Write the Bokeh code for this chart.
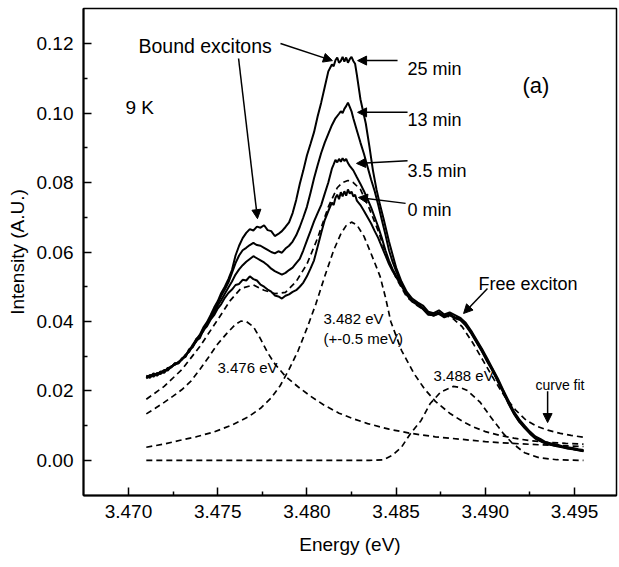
from bokeh.plotting import figure
from bokeh.models import Range1d, FixedTicker, PrintfTickFormatter, Label, Arrow, NormalHead
from bokeh.embed import file_html
from bokeh.resources import INLINE

# ---------------- data ----------------
x_ticks = [3.470, 3.475, 3.480, 3.485, 3.490, 3.495]
x_minor = [3.4725, 3.4775, 3.4825, 3.4875, 3.4925]
y_ticks = [0.00, 0.02, 0.04, 0.06, 0.08, 0.10, 0.12]
y_minor = [0.01, 0.03, 0.05, 0.07, 0.09, 0.11]

left_e = [3.4710, 3.4712, 3.4714, 3.4716, 3.4718, 3.4720, 3.4722, 3.4724, 3.4726, 3.4728,
          3.4730, 3.4732, 3.4734, 3.4736, 3.4738, 3.4740, 3.4742, 3.4744, 3.4746]
right_e = [3.4856, 3.4859, 3.4862, 3.4865, 3.4868, 3.4871, 3.4874, 3.4877, 3.4880, 3.4883,
           3.4886, 3.4889, 3.4892, 3.4895, 3.4898, 3.4901, 3.4904, 3.4907, 3.4910, 3.4913,
           3.4916, 3.4919, 3.4922, 3.4925, 3.4928, 3.4931, 3.4934, 3.4937, 3.4940, 3.4943,
           3.4946, 3.4949, 3.4952, 3.4955]

# 25 min spectrum
s25_left = [.0238, .0246, .0241, .0252, .0249, .0258, .0262, .0271, .0275, .0284,
            .0290, .0302, .0315, .0333, .0348, .0362, .0383, .0398, .0418]
s25_mid = [(3.4748, .0440), (3.4750, .0458), (3.4752, .0482), (3.4754, .0500), (3.4756, .0522),
           (3.4758, .0548), (3.4760, .0590), (3.4762, .0618), (3.4764, .0640), (3.4766, .0655),
           (3.4768, .0666), (3.4770, .0662), (3.4772, .0673), (3.4774, .0670), (3.4776, .0677),
           (3.4778, .0663), (3.4780, .0660), (3.4782, .0646), (3.4784, .0652), (3.4786, .0660),
           (3.4788, .0672), (3.4790, .0685), (3.4792, .0712), (3.4794, .0750), (3.4796, .0796),
           (3.4798, .0835), (3.4800, .0878), (3.4802, .0911), (3.4804, .0945), (3.4806, .0990),
           (3.4808, .1030), (3.4810, .1075), (3.4812, .1120), (3.4814, .1140), (3.4815, .1135),
           (3.4816, .1152), (3.4817, .1160), (3.4818, .1145), (3.4819, .1150), (3.4820, .1162),
           (3.4821, .1148), (3.4822, .1160), (3.4823, .1145), (3.4824, .1155), (3.4825, .1162),
           (3.4826, .1150), (3.4827, .1142), (3.4828, .1110), (3.4830, .1040), (3.4833, .0970),
           (3.4835, .0905), (3.4837, .0835), (3.4839, .0780), (3.4841, .0735), (3.4843, .0695),
           (3.4846, .0630), (3.4850, .0555), (3.4853, .0515)]
s25_right = [.0485, .0466, .0455, .0446, .0428, .0424, .0432, .0420, .0426, .0418,
             .0410, .0396, .0374, .0348, .0322, .0294, .0265, .0236, .0203, .0172,
             .0141, .0118, .0100, .0083, .0069, .0061, .0052, .0049, .0046, .0041,
             .0038, .0036, .0032, .0030]

# 13 min spectrum
s13_left = [.0244, .0240, .0250, .0247, .0256, .0254, .0266, .0268, .0279, .0281,
            .0294, .0300, .0320, .0328, .0350, .0357, .0380, .0392, .0412]
s13_mid = [(3.4748, .0432), (3.4750, .0452), (3.4752, .0474), (3.4754, .0492), (3.4756, .0512),
           (3.4758, .0540), (3.4760, .0568), (3.4762, .0590), (3.4764, .0605), (3.4766, .0612),
           (3.4768, .0620), (3.4770, .0626), (3.4772, .0620), (3.4774, .0618), (3.4776, .0612),
           (3.4778, .0606), (3.4780, .0600), (3.4782, .0596), (3.4784, .0602), (3.4786, .0598),
           (3.4788, .0610), (3.4790, .0618), (3.4792, .0630), (3.4794, .0648), (3.4796, .0672),
           (3.4798, .0700), (3.4800, .0730), (3.4802, .0770), (3.4804, .0812), (3.4806, .0850),
           (3.4808, .0885), (3.4810, .0915), (3.4812, .0940), (3.4814, .0965), (3.4816, .0985),
           (3.4818, .0998), (3.4819, .1005), (3.4820, .1000), (3.4821, .1012), (3.4822, .1020),
           (3.4823, .1030), (3.4824, .1018), (3.4825, .1005), (3.4826, .0985), (3.4828, .0950),
           (3.4830, .0915), (3.4832, .0882), (3.4834, .0845), (3.4836, .0808), (3.4838, .0775),
           (3.4840, .0735), (3.4842, .0692), (3.4844, .0650), (3.4846, .0605), (3.4848, .0572),
           (3.4850, .0545), (3.4853, .0510)]
s13_right = [.0478, .0460, .0450, .0437, .0426, .0416, .0424, .0416, .0419, .0412,
             .0405, .0392, .0368, .0342, .0316, .0288, .0260, .0229, .0198, .0166,
             .0136, .0113, .0095, .0078, .0064, .0056, .0049, .0045, .0042, .0039,
             .0035, .0033, .0030, .0027]

# 3.5 min spectrum
s35_left = [.0236, .0244, .0247, .0244, .0253, .0260, .0259, .0270, .0277, .0280,
            .0291, .0305, .0312, .0330, .0342, .0360, .0372, .0395, .0408]
s35_mid = [(3.4748, .0425), (3.4750, .0445), (3.4752, .0462), (3.4754, .0480), (3.4756, .0498),
           (3.4758, .0515), (3.4760, .0535), (3.4762, .0550), (3.4764, .0562), (3.4766, .0572),
           (3.4768, .0580), (3.4770, .0588), (3.4772, .0582), (3.4774, .0576), (3.4776, .0570),
           (3.4778, .0562), (3.4780, .0552), (3.4782, .0545), (3.4784, .0540), (3.4786, .0535),
           (3.4788, .0540), (3.4790, .0548), (3.4792, .0555), (3.4794, .0568), (3.4796, .0580),
           (3.4798, .0605), (3.4800, .0633), (3.4802, .0660), (3.4804, .0688), (3.4806, .0712),
           (3.4808, .0735), (3.4810, .0768), (3.4812, .0800), (3.4814, .0840), (3.4815, .0852),
           (3.4816, .0865), (3.4817, .0858), (3.4818, .0868), (3.4819, .0860), (3.4820, .0870),
           (3.4821, .0862), (3.4822, .0868), (3.4823, .0856), (3.4824, .0848), (3.4826, .0835),
           (3.4828, .0815), (3.4830, .0796), (3.4832, .0775), (3.4834, .0752), (3.4836, .0728),
           (3.4838, .0700), (3.4840, .0672), (3.4842, .0640), (3.4844, .0605), (3.4846, .0575),
           (3.4848, .0550), (3.4850, .0532), (3.4853, .0508)]
s35_right = [.0481, .0459, .0453, .0438, .0421, .0422, .0425, .0414, .0423, .0410,
             .0410, .0390, .0371, .0343, .0320, .0287, .0263, .0230, .0201, .0165,
             .0139, .0112, .0098, .0079, .0067, .0057, .0051, .0046, .0044, .0039,
             .0037, .0033, .0031, .0028]

# 0 min spectrum
s0_left = [.0243, .0238, .0248, .0246, .0255, .0252, .0265, .0268, .0280, .0279,
           .0293, .0298, .0318, .0326, .0345, .0352, .0375, .0386, .0405]
s0_mid = [(3.4748, .0418), (3.4750, .0437), (3.4752, .0450), (3.4754, .0468), (3.4756, .0482),
          (3.4758, .0492), (3.4760, .0505), (3.4762, .0508), (3.4764, .0520), (3.4766, .0518),
          (3.4768, .0530), (3.4770, .0522), (3.4772, .0518), (3.4774, .0506), (3.4776, .0500),
          (3.4778, .0492), (3.4780, .0486), (3.4782, .0475), (3.4784, .0472), (3.4786, .0466),
          (3.4788, .0474), (3.4790, .0478), (3.4792, .0485), (3.4794, .0490), (3.4796, .0500),
          (3.4798, .0512), (3.4800, .0530), (3.4802, .0552), (3.4804, .0576), (3.4806, .0615),
          (3.4808, .0655), (3.4810, .0692), (3.4812, .0718), (3.4814, .0742), (3.4815, .0735),
          (3.4816, .0756), (3.4817, .0765), (3.4818, .0752), (3.4819, .0772), (3.4820, .0760),
          (3.4821, .0775), (3.4822, .0762), (3.4823, .0780), (3.4824, .0768), (3.4825, .0774),
          (3.4826, .0760), (3.4827, .0765), (3.4828, .0748), (3.4830, .0735), (3.4832, .0718),
          (3.4834, .0700), (3.4836, .0682), (3.4838, .0660), (3.4840, .0640), (3.4842, .0615),
          (3.4844, .0590), (3.4846, .0565), (3.4848, .0545), (3.4850, .0528), (3.4853, .0502)]
s0_right = [.0476, .0457, .0448, .0436, .0419, .0418, .0422, .0412, .0418, .0409,
            .0404, .0388, .0366, .0340, .0314, .0285, .0258, .0227, .0196, .0163,
            .0134, .0111, .0093, .0077, .0063, .0055, .0048, .0044, .0041, .0038,
            .0034, .0032, .0029, .0026]

# curve fit (sum) and its three components
fit_sum = [(3.4710, .0176), (3.4720, .0213), (3.4730, .0262), (3.4740, .0328), (3.4750, .0405),
           (3.4757, .0460), (3.4763, .0495), (3.4770, .0505), (3.4776, .0490), (3.4782, .0480),
           (3.4788, .0484), (3.4794, .0515), (3.4800, .0565), (3.4806, .0640), (3.4812, .0730),
           (3.4817, .0785), (3.4820, .0800), (3.4823, .0806), (3.4826, .0800), (3.4830, .0780),
           (3.4835, .0725), (3.4840, .0660), (3.4845, .0585), (3.4850, .0525), (3.4856, .0470),
           (3.4862, .0445), (3.4868, .0425), (3.4875, .0420), (3.4881, .0412), (3.4887, .0385),
           (3.4893, .0338), (3.4899, .0285), (3.4905, .0232), (3.4911, .0183), (3.4917, .0145),
           (3.4923, .0115), (3.4929, .0098), (3.4935, .0087), (3.4942, .0078), (3.4948, .0072),
           (3.4955, .0067)]
peak_3476 = [(3.4710, .0134), (3.4715, .0150), (3.4720, .0167), (3.4725, .0185), (3.4730, .0204),
             (3.4735, .0228), (3.4740, .0262), (3.4745, .0298), (3.4750, .0335), (3.4755, .0365),
             (3.4760, .0392), (3.4763, .0401), (3.4766, .0400), (3.4770, .0385), (3.4774, .0350),
             (3.4778, .0310), (3.4782, .0278), (3.4788, .0242), (3.4795, .0212), (3.4802, .0185),
             (3.4810, .0158), (3.4818, .0136), (3.4826, .0120), (3.4834, .0106), (3.4846, .0090),
             (3.4858, .0078), (3.4872, .0068), (3.4886, .0061), (3.4900, .0054), (3.4915, .0049),
             (3.4930, .0045), (3.4955, .0040)]
peak_3482 = [(3.4710, .0038), (3.4720, .0047), (3.4729, .0058), (3.4738, .0068), (3.4748, .0082),
             (3.4758, .0102), (3.4767, .0125), (3.4774, .0150), (3.4780, .0180), (3.4785, .0215),
             (3.4790, .0262), (3.4795, .0315), (3.4800, .0380), (3.4805, .0450), (3.4810, .0530),
             (3.4815, .0605), (3.4819, .0652), (3.4822, .0676), (3.4825, .0686), (3.4828, .0678),
             (3.4832, .0645), (3.4836, .0595), (3.4841, .0530), (3.4844, .0470), (3.4847, .0400),
             (3.4853, .0317), (3.4860, .0250), (3.4866, .0205), (3.4872, .0170), (3.4880, .0136),
             (3.4887, .0113), (3.4893, .0097), (3.4900, .0083), (3.4908, .0072), (3.4916, .0064),
             (3.4925, .0057), (3.4935, .0052), (3.4945, .0049), (3.4955, .0047)]
peak_3488 = [(3.4710, .0000), (3.4835, .0000), (3.4843, .0002), (3.4848, .0015), (3.4853, .0038),
             (3.4858, .0077), (3.4864, .0115), (3.4869, .0163), (3.4875, .0197), (3.4882, .0213),
             (3.4886, .0210), (3.4890, .0201), (3.4897, .0168), (3.4903, .0125), (3.4910, .0078),
             (3.4915, .0050), (3.4922, .0022), (3.4930, .0008), (3.4940, .0002), (3.4955, .0000)]

# ---------------- figure ----------------
FONT = "Liberation Sans"
p = figure(width=619, height=567, output_backend="svg", toolbar_location=None,
           x_range=Range1d(3.46748, 3.49735), y_range=Range1d(-0.0101, 0.1301),
           min_border_left=83, min_border_right=3, min_border_top=8, min_border_bottom=72)
p.grid.visible = False
p.outline_line_color = "black"
p.outline_line_width = 1.5
p.background_fill_color = "white"
p.border_fill_color = "white"

for ax, ticks, minor, fmt in ((p.xaxis, x_ticks, x_minor, "%.3f"), (p.yaxis, y_ticks, y_minor, "%.2f")):
    ax.ticker = FixedTicker(ticks=ticks, minor_ticks=minor)
    ax.formatter = PrintfTickFormatter(format=fmt)
    ax.major_tick_in = 8
    ax.major_tick_out = 0
    ax.minor_tick_in = 4
    ax.minor_tick_out = 0
    ax.major_tick_line_width = 1.5
    ax.minor_tick_line_width = 1.5
    ax.axis_line_width = 2
    ax.major_label_text_font = FONT
    ax.major_label_text_font_size = "19px"
    ax.major_label_text_color = "black"
    ax.axis_label_text_font = FONT
    ax.axis_label_text_font_size = "19px"
    ax.axis_label_text_font_style = "normal"
    ax.axis_label_text_color = "black"

p.xaxis.axis_label = "Energy (eV)"
p.yaxis.axis_label = "Intensity (A.U.)"
p.xaxis.major_label_standoff = 9
p.yaxis.major_label_standoff = 10
p.xaxis.axis_label_standoff = 13
p.yaxis.axis_label_standoff = 6

# dashed fit curves
for series in (peak_3488, peak_3482, peak_3476, fit_sum):
    e, i = zip(*series)
    p.line(list(e), list(i), line_color="black", line_width=1.7, line_dash="6 4")

# measured spectra
for left, mid, right in ((s0_left, s0_mid, s0_right), (s35_left, s35_mid, s35_right),
                         (s13_left, s13_mid, s13_right), (s25_left, s25_mid, s25_right)):
    me, mi = zip(*mid)
    e = left_e + list(me) + right_e
    i = left + list(mi) + right
    p.line(e, i, line_color="black", line_width=2)

# ---------------- annotations ----------------
def label(x, y, text, size, level="annotation"):
    p.add_layout(Label(x=x, y=y, text=text, text_font=FONT, text_font_size=size,
                       text_color="black", text_baseline="alphabetic", text_align="left",
                       level=level))

label(3.46983, 0.1016, "9 K", "19px")
label(3.47056, 0.1194, "Bound excitons", "19.5px")
label(3.48564, 0.1128, "25 min", "18px")
label(3.48564, 0.0979, "13 min", "18px")
label(3.48564, 0.0832, "3.5 min", "18px")
label(3.48564, 0.0720, "0 min", "18px")
label(3.49208, 0.1079, "(a)", "22px")
label(3.48962, 0.0509, "Free exciton", "18px")
label(3.47499, 0.0268, "3.476 eV", "15px")
label(3.48093, 0.0409, "3.482 eV", "15px")
label(3.48093, 0.0351, "(+-0.5 meV)", "15px")
label(3.48710, 0.0245, "3.488 eV", "15px", level="underlay")
label(3.49281, 0.0216, "curve fit", "14px")

arrows = [((3.47617, 0.1157), (3.47723, 0.0696)),
          ((3.47852, 0.1200), (3.48143, 0.1151)),
          ((3.48508, 0.1151), (3.48284, 0.1151)),
          ((3.48564, 0.1002), (3.48284, 0.1002)),
          ((3.48564, 0.0863), (3.48278, 0.0855)),
          ((3.48553, 0.0740), (3.48289, 0.0757)),
          ((3.49012, 0.0495), (3.48878, 0.0423)),
          ((3.49349, 0.0199), (3.49349, 0.0109))]
for (x0, y0), (x1, y1) in arrows:
    p.add_layout(Arrow(end=NormalHead(size=9, fill_color="black", line_color="black", line_width=1),
                       x_start=x0, y_start=y0, x_end=x1, y_end=y1,
                       line_color="black", line_width=1.5))

open("out.html", "w").write(file_html(p, INLINE))
